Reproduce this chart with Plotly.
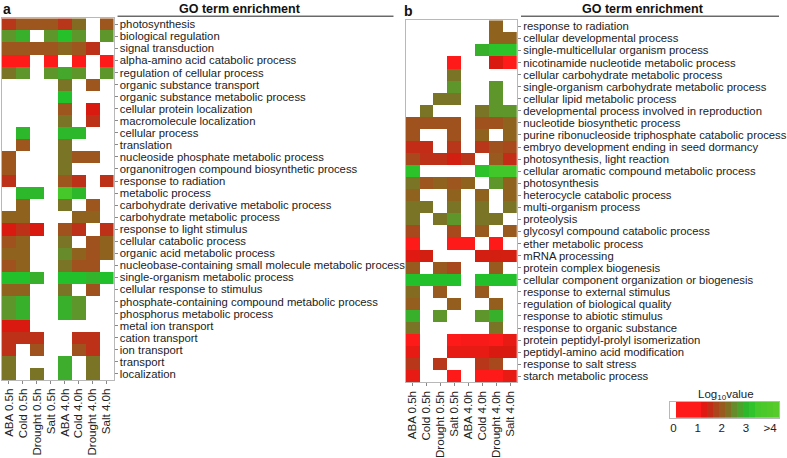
import plotly.graph_objects as go

W, H = 787, 458
N = None

conditions = ["ABA 0.5h", "Cold 0.5h", "Drought 0.5h", "Salt 0.5h",
              "ABA 4.0h", "Cold 4.0h", "Drought 4.0h", "Salt 4.0h"]

terms_a = [
    "photosynthesis", "biological regulation", "signal transduction",
    "alpha-amino acid catabolic process", "regulation of cellular process",
    "organic substance transport", "organic substance metabolic process",
    "cellular protein localization", "macromolecule localization",
    "cellular process", "translation", "nucleoside phosphate metabolic process",
    "organonitrogen compound biosynthetic process", "response to radiation",
    "metabolic process", "carbohydrate derivative metabolic process",
    "carbohydrate metabolic process", "response to light stimulus",
    "cellular catabolic process", "organic acid metabolic process",
    "nucleobase-containing small molecule metabolic process",
    "single-organism metabolic process", "cellular response to stimulus",
    "phosphate-containing compound metabolic process",
    "phosphorus metabolic process", "metal ion transport", "cation transport",
    "ion transport", "transport", "localization",
]

vals_a = [
    [1.6, 1.95, 1.95, 1.95, 1.6, 2.2, N, 1.95],
    [2.6, 2.9, N, 2.6, 3.15, 2.6, N, 2.6],
    [1.95, 1.95, 1.95, 1.95, 2.15, 1.95, 1.55, N],
    [1.0, 1.0, N, 1.0, N, 1.0, N, 1.0],
    [2.3, 2.6, N, 2.6, 2.8, 2.6, N, 2.6],
    [N, N, N, N, 2.3, N, 1.95, N],
    [N, N, N, N, 3.1, N, N, N],
    [N, N, N, N, 1.95, N, 1.3, N],
    [N, N, N, N, 2.3, N, 1.55, N],
    [N, 3.0, N, N, 3.0, 3.0, N, N],
    [N, 1.95, N, N, 2.3, N, N, N],
    [1.95, N, N, N, 2.3, 1.95, 1.95, N],
    [1.95, N, N, N, 2.3, N, N, N],
    [1.55, N, N, N, 1.95, 1.55, N, 1.55],
    [N, 3.0, 3.0, N, 3.5, 3.0, N, N],
    [N, 2.1, N, N, 2.3, N, 1.95, N],
    [2.1, 2.1, N, N, N, 2.1, 2.1, N],
    [1.3, 1.55, 1.3, N, 1.9, 1.55, N, 1.55],
    [1.9, 2.1, N, N, 2.3, N, 1.9, 2.1],
    [2.1, 2.1, N, N, 2.5, 2.1, 1.9, 2.1],
    [1.9, 2.1, N, N, 2.3, 1.9, 1.9, N],
    [3.1, 3.1, 2.9, N, 3.1, 3.1, 2.95, 3.1],
    [2.1, 2.1, N, N, 2.3, N, 1.9, N],
    [2.6, 2.9, N, N, 2.9, 2.6, N, N],
    [2.6, 2.9, N, N, 2.9, 2.6, N, N],
    [1.3, 1.3, N, N, N, N, N, N],
    [1.55, 1.55, 1.55, N, N, 1.55, 1.55, N],
    [1.55, N, 1.9, N, N, 1.9, 1.55, N],
    [2.3, N, N, N, 2.85, N, 2.3, N],
    [2.3, N, 2.3, N, 2.85, N, 2.3, N],
]

terms_b = [
    "response to radiation", "cellular developmental process",
    "single-multicellular organism process",
    "nicotinamide nucleotide metabolic process",
    "cellular carbohydrate metabolic process",
    "single-organism carbohydrate metabolic process",
    "cellular lipid metabolic process",
    "developmental process involved in reproduction",
    "nucleotide biosynthetic process",
    "purine ribonucleoside triphosphate catabolic process",
    "embryo development ending in seed dormancy",
    "photosynthesis, light reaction",
    "cellular aromatic compound metabolic process", "photosynthesis",
    "heterocycle catabolic process", "multi-organism process", "proteolysis",
    "glycosyl compound catabolic process", "ether metabolic process",
    "mRNA processing", "protein complex biogenesis",
    "cellular component organization or biogenesis",
    "response to external stimulus", "regulation of biological quality",
    "response to abiotic stimulus", "response to organic substance",
    "protein peptidyl-prolyl isomerization",
    "peptidyl-amino acid modification", "response to salt stress",
    "starch metabolic process",
]

vals_b = [
    [N, N, N, N, N, N, 2.1, N],
    [N, N, N, N, N, N, 2.1, 2.1],
    [N, N, N, N, N, 2.9, 3.2, 3.2],
    [N, N, N, 1.0, N, N, 1.3, 1.0],
    [N, N, N, 2.3, N, N, N, N],
    [N, N, N, 2.6, N, N, 2.6, N],
    [N, N, 2.3, 2.3, N, N, 2.6, N],
    [N, 2.3, N, N, N, 2.3, 2.6, 2.6],
    [1.9, 1.9, 1.9, 1.9, N, 1.9, 1.9, 2.1],
    [1.9, N, N, 1.9, N, 2.1, N, 2.1],
    [1.5, 1.5, N, 1.6, N, 1.6, 1.9, 1.8],
    [1.8, 1.55, 1.55, 1.35, 1.6, N, 2.0, 1.5],
    [3.2, N, N, N, N, 3.2, 3.45, 3.45],
    [2.3, 1.95, 2.1, 1.95, 2.1, N, 2.6, 2.1],
    [2.1, N, N, 2.1, N, 2.1, N, 2.1],
    [2.3, 2.3, N, 2.3, N, 2.3, N, 2.3],
    [2.3, N, 2.3, 2.6, N, 2.3, 2.3, N],
    [1.8, N, N, 1.8, N, 2.0, N, 2.0],
    [1.0, N, N, 1.0, 1.0, N, 1.0, N],
    [1.25, 1.35, N, N, N, 1.35, 1.35, 1.35],
    [2.0, N, 2.0, 1.8, N, N, 2.0, N],
    [3.1, 3.1, 3.1, 3.1, N, 3.1, 3.1, 3.1],
    [2.2, N, 2.0, N, N, 2.0, N, N],
    [2.05, N, N, 2.05, N, N, 2.05, N],
    [2.9, N, 2.6, N, N, 2.6, 2.9, N],
    [2.3, N, N, N, N, N, 2.3, N],
    [1.0, N, N, 1.0, 1.1, 1.1, 1.0, 1.2],
    [1.2, N, N, 1.2, 1.2, 1.2, 1.3, 1.3],
    [1.6, N, 1.6, N, N, 1.6, 1.8, N],
    [1.2, N, N, 1.0, N, 1.0, 1.0, 1.2],
]

legend_vals = [0, 0.25, 0.5, 0.75, 1.0, 1.25, 1.5, 1.75, 2.0, 2.25, 2.5,
               2.75, 3.0, 3.25, 3.5, 3.75, 4.0, 4.25]
legend_ticks = [0, 1, 2, 3, 4]
legend_ticktext = ["0", "1", "2", "3", ">4"]

ZMIN, ZMAX = 0, 4.5
stops = [
    (0.0, "#ffffff"), (0.1, "#ffffff"), (0.12, "#ff1a1a"), (1.05, "#ff1a1a"),
    (1.3, "#d81a10"), (1.6, "#b8361a"), (1.9, "#a0521e"), (2.1, "#8f621e"),
    (2.3, "#7a7426"), (2.6, "#5e962c"), (2.9, "#38b02c"), (3.1, "#22c02a"),
    (3.5, "#46c82a"), (4.5, "#5ccc28"),
]
colorscale = [[v / ZMAX, c] for v, c in stops]

FONT = "Liberation Sans, Arial, sans-serif"

fig = go.Figure()


def px_x(p):
    return p / W


def px_y(p):
    return 1 - p / H


for terms, vals, xa, ya in [(terms_a, vals_a, "x", "y"),
                            (terms_b, vals_b, "x2", "y2")]:
    fig.add_trace(go.Heatmap(
        z=vals, x=conditions, y=terms, xaxis=xa, yaxis=ya,
        colorscale=colorscale, zmin=ZMIN, zmax=ZMAX, showscale=False,
        hoverongaps=False,
    ))

axis_common = dict(
    showgrid=False, zeroline=False, showline=True, linecolor="#b8b8b8",
    linewidth=1, mirror=True, ticks="outside", ticklen=3, tickcolor="#888",
)
xfont = dict(family=FONT, size=11.6, color="#222")
yfont = dict(family=FONT, size=11.3, color="#222")

fig.update_layout(
    xaxis=dict(domain=[px_x(2), px_x(114)], tickangle=-90, anchor="y",
               tickmode="array", tickvals=conditions, tickfont=xfont,
               **axis_common),
    yaxis=dict(domain=[px_y(387.5), px_y(18.7)], side="right",
               autorange="reversed", anchor="x", tickmode="array",
               tickvals=terms_a, tickfont=yfont, **axis_common),
    xaxis2=dict(domain=[px_x(407.3), px_x(519)], tickangle=-90, anchor="y2",
                tickmode="array", tickvals=conditions, tickfont=xfont,
                **axis_common),
    yaxis2=dict(domain=[px_y(390), px_y(20.7)], side="right",
                autorange="reversed", anchor="x2", tickmode="array",
                tickvals=terms_b, tickfont=yfont, **axis_common),
)

# legend bar
fig.add_trace(go.Heatmap(
    z=[legend_vals], x=legend_vals, y=[0], xaxis="x3", yaxis="y3",
    colorscale=colorscale, zmin=ZMIN, zmax=ZMAX, showscale=False,
))
fig.update_layout(
    xaxis3=dict(domain=[px_x(673), px_x(782)], range=[-0.125, 4.375],
                anchor="y3", showgrid=False, zeroline=False, showline=True,
                mirror=True, linecolor="#b8b8b8", ticks="",
                tickmode="array", tickvals=legend_ticks,
                ticktext=legend_ticktext,
                tickfont=dict(family=FONT, size=11.5, color="#222")),
    yaxis3=dict(domain=[px_y(426), px_y(410)], range=[-0.5, 0.5],
                anchor="x3", showgrid=False, zeroline=False, showline=True,
                mirror=True, linecolor="#b8b8b8", showticklabels=False,
                ticks=""),
)

annotations = [
    dict(text="<b>a</b>", x=px_x(1), y=px_y(9), xanchor="left",
         yanchor="middle", font=dict(size=14, family=FONT, color="#111")),
    dict(text="<b>b</b>", x=px_x(404), y=px_y(11), xanchor="left",
         yanchor="middle", font=dict(size=14, family=FONT, color="#111")),
    dict(text="<b>GO term enrichment</b>", x=px_x(241), y=px_y(9),
         xanchor="center", yanchor="middle",
         font=dict(size=12.5, family=FONT, color="#111")),
    dict(text="<b>GO term enrichment</b>", x=px_x(645), y=px_y(9),
         xanchor="center", yanchor="middle",
         font=dict(size=12.5, family=FONT, color="#111")),
    dict(text="Log<sub>10</sub>value", x=px_x(729), y=px_y(403),
         xanchor="center", yanchor="middle",
         font=dict(size=11.5, family=FONT, color="#222")),
]
for a in annotations:
    a.update(xref="paper", yref="paper", showarrow=False)

shapes = [
    dict(type="line", xref="paper", yref="paper", x0=px_x(118), x1=px_x(395),
         y0=px_y(16.5), y1=px_y(16.5), line=dict(color="#222", width=1)),
    dict(type="line", xref="paper", yref="paper", x0=px_x(523), x1=px_x(782),
         y0=px_y(16.5), y1=px_y(16.5), line=dict(color="#222", width=1)),
]

fig.update_layout(
    width=W, height=H, margin=dict(l=0, r=0, t=0, b=0),
    paper_bgcolor="white", plot_bgcolor="white",
    annotations=annotations, shapes=shapes, showlegend=False,
)

fig.write_html("out.html", config={"displayModeBar": False},
               post_script="document.body.style.margin='0';"
                           "document.body.style.overflow='hidden';")
